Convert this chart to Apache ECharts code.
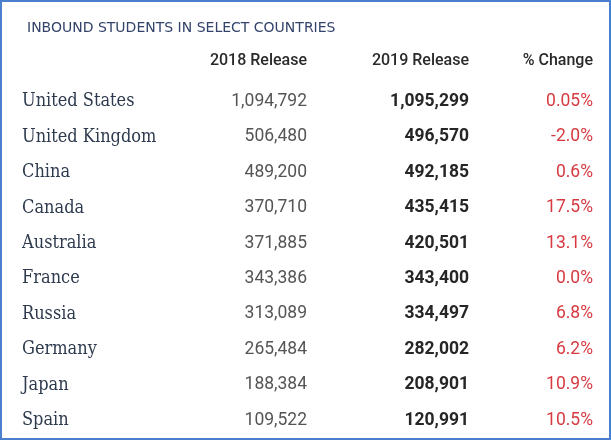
<!DOCTYPE html><html><head><meta charset="utf-8">
<script src="https://cdn.jsdelivr.net/npm/echarts@6/dist/echarts.min.js"></script>
<style>html,body{margin:0;padding:0;background:#fff}#c{width:611px;height:440px;box-sizing:border-box;border:2px solid #4a7fd0}</style>
</head><body><div id="c"></div><script>
const title = 'INBOUND STUDENTS IN SELECT COUNTRIES';
const headers = ['2018 Release', '2019 Release', '% Change'];
const countries = ['United States','United Kingdom','China','Canada','Australia','France','Russia','Germany','Japan','Spain'];
const release2018 = ['1,094,792','506,480','489,200','370,710','371,885','343,386','313,089','265,484','188,384','109,522'];
const release2019 = ['1,095,299','496,570','492,185','435,415','420,501','343,400','334,497','282,002','208,901','120,991'];
const pctChange = ['0.05%','-2.0%','0.6%','17.5%','13.1%','0.0%','6.8%','6.2%','10.9%','10.5%'];
const colX = [20, 305, 467, 591];

const chart = echarts.init(document.getElementById('c'));
function col(x, vals, style, align) {
  return {
    type: 'scatter', symbolSize: 0, silent: true, itemStyle: {opacity: 1},
    data: vals.map((v, i) => [x, i, v]),
    label: Object.assign({show: true, position: 'inside', align: align, verticalAlign: 'middle', opacity: 1,
      textBorderWidth: 0, formatter: p => p.data[2]}, style)
  };
}
const numFont = 'Roboto, sans-serif';
chart.setOption({
  animation: false,
  title: {text: title, left: 20, top: 14, textStyle: {color: '#33436a', fontSize: 14, fontWeight: 'normal', fontFamily: '"DejaVu Sans", sans-serif'}},
  graphic: headers.map((h, i) => ({type: 'text', style: {text: h, x: colX[i + 1], y: 59, align: 'right', verticalAlign: 'middle',
    fill: '#2a2a2a', font: '500 16px Roboto, sans-serif'}})),
  grid: {left: 0, right: 0, top: 82, height: 357},
  xAxis: {type: 'value', min: 0, max: 607, show: false},
  yAxis: {type: 'category', data: countries, inverse: true, show: false},
  series: [
    col(colX[0], countries, {color: '#2e3a4e', fontSize: 18, fontFamily: '"DejaVu Serif Condensed", "DejaVu Serif", serif'}, 'left'),
    col(colX[1], release2018, {color: '#555', fontSize: 17.5, fontFamily: numFont}, 'right'),
    col(colX[2], release2019, {color: '#262626', fontSize: 17.5, fontWeight: 'bold', fontFamily: numFont}, 'right'),
    col(colX[3], pctChange, {color: '#d63a40', fontSize: 17.5, fontFamily: numFont}, 'right')
  ]
});
</script></body></html>
